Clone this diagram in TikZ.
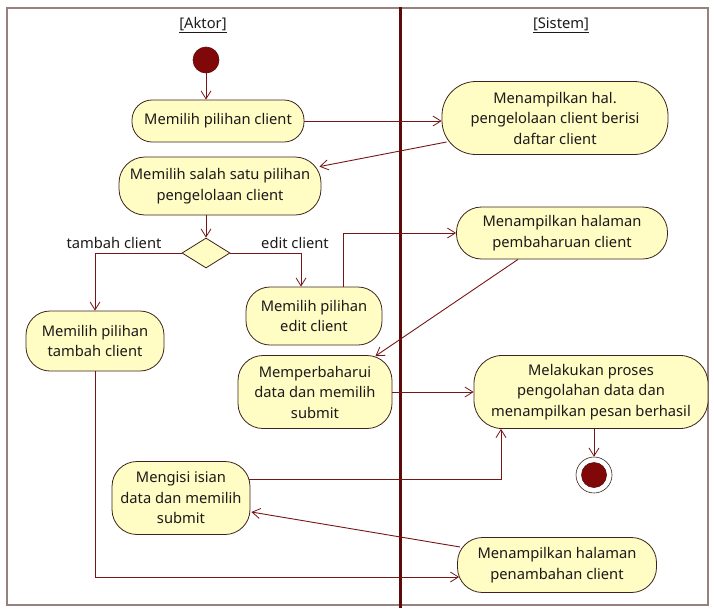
\documentclass[tikz,border=0pt]{standalone}
\usepackage{fontspec}
\setmainfont{Noto Sans}
\usetikzlibrary{arrows.meta,shapes.geometric,calc}

\definecolor{actfill}{RGB}{255,252,196}
\definecolor{actline}{RGB}{60,36,30}
\definecolor{flow}{RGB}{118,22,22}
\definecolor{lane}{RGB}{92,10,10}
\definecolor{frame}{RGB}{150,128,128}
\definecolor{dot}{RGB}{128,8,8}
\definecolor{ink}{RGB}{30,26,26}

\begin{document}
\begin{tikzpicture}[x=1pt,y=-1pt,
  txt/.style={font=\fontsize{14.7}{20.5}\selectfont, text=ink},
  act/.style={txt, draw=actline, fill=actfill, line width=0.8pt,
    rounded corners=#1, align=center, inner sep=1pt},
  act/.default=24,
  arr/.style={draw=flow, line width=0.9pt,
    -{Straight Barb[length=8pt,width=10pt,line width=0.8pt]}},
  choice/.style={diamond, draw=actline, fill=actfill, line width=0.8pt,
    minimum width=48, minimum height=30, inner sep=0pt},
  lbl/.style={txt},
]
\useasboundingbox (0,0) rectangle (714,608);

% swimlane frame and divider
\draw[frame, line width=1.4pt] (7,8) rectangle (708,605);
\draw[lane, line width=3pt] (400,7) -- (400,608);
\node[txt] (hA) at (203,25) {\underline{[Aktor]}};
\node[txt] (hS) at (561,25) {\underline{[Sistem]}};

% start node
\node[circle, fill=dot, draw=lane, line width=0.6pt, minimum size=26, inner sep=0pt] (init) at (206,60) {};

% actor activities
\node[act=20, minimum width=172, minimum height=42] (n1) at (218,121) {Memilih pilihan client};
\node[act=26, minimum width=202, minimum height=58] (n2) at (220,186) {Memilih salah satu pilihan\\pengelolaan client};
\node[choice] (dia) at (206,253) {};
\node[act=24, minimum width=138, minimum height=60] (n3) at (95,341) {Memilih pilihan\\tambah client};
\node[act=24, minimum width=136, minimum height=58] (n4) at (314,316) {Memilih pilihan\\edit client};
\node[act=25, minimum width=154, minimum height=73] (n5) at (315,392) {Memperbaharui\\data dan memilih\\submit};
\node[act=25, minimum width=138, minimum height=73] (n6) at (181,498) {Mengisi isian\\data dan memilih\\submit};

% system activities
\node[act=34, minimum width=226, minimum height=73] (s1) at (555,118) {Menampilkan hal.\\pengelolaan client berisi\\daftar client};
\node[act=25, minimum width=211, minimum height=52] (s2) at (562,233) {Menampilkan halaman\\pembaharuan client};
\node[act=28, minimum width=234, minimum height=73] (s3) at (591,392) {Melakukan proses\\pengolahan data dan\\menampilkan pesan berhasil};
\node[act=25, minimum width=199, minimum height=55] (s4) at (557,565) {Menampilkan halaman\\penambahan client};

% end node
\node[circle, draw=actline, fill=white, line width=0.6pt, minimum size=36, inner sep=0pt] (fin) at (594,475) {};
\node[circle, fill=dot, draw=lane, line width=0.6pt, minimum size=25, inner sep=0pt] (finc) at (fin) {};

% guard labels
\node[lbl] (gT) at (114,243) {tambah client};
\node[lbl] (gE) at (295,243) {edit client};

% control flows
\draw[arr] (init.south) -- (init.south |- n1.north);
\draw[arr] (n1.east) -- (n1.east -| s1.west);
\draw[arr] ($(s1.west)+(5,24)$) -- ($(n2.north east)+(-2,10)$);
\draw[arr] (n2.south -| dia.north) -- (dia.north);
\draw[arr] (dia.west) -| (n3.north);
\draw[arr] (dia.east) -| ($(n4.north)+(-13,0)$);
\draw[arr] ($(n4.north)+(29,0)$) |- (s2.west);
\draw[arr] ($(s2.south)+(-44,0)$) -- ($(n5.north east)+(-17,1)$);
\draw[arr] (n5.east) -- (n5.east -| s3.west);
\draw[arr] (s3.south -| fin.north) -- (fin.north);
\draw[arr] ($(n6.east)+(-1,-19)$) -| ($(s3.south)+(-90,0)$);
\draw[arr] ($(s4.west)+(3,-18)$) -- ($(n6.east)+(1,14)$);
\draw[arr] (n3.south) |- ($(s4.west)+(2,12)$);
\end{tikzpicture}
\end{document}
